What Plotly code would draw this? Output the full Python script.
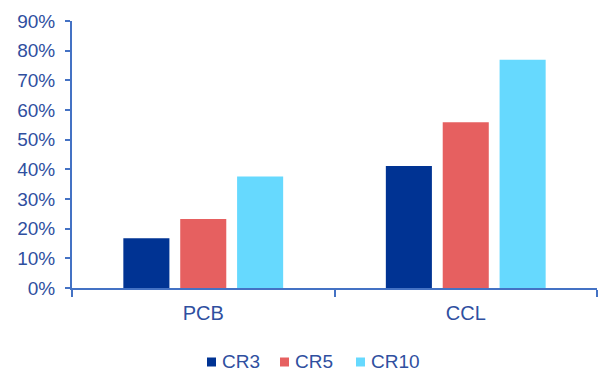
import plotly.graph_objects as go

# Concentration ratios by industry
categories = ["PCB", "CCL"]
series_names = ["CR3", "CR5", "CR10"]
cr3 = [0.168, 0.411]
cr5 = [0.233, 0.559]
cr10 = [0.376, 0.769]
y_ticks = [0, 0.1, 0.2, 0.3, 0.4, 0.5, 0.6, 0.7, 0.8, 0.9]
y_tick_labels = ["0%", "10%", "20%", "30%", "40%", "50%", "60%", "70%", "80%", "90%"]

colors = ["#003393", "#E66060", "#66D9FE"]
text_color = "#2F4F9F"
axis_color = "#4472C4"
font_family = "Liberation Sans, Arial, sans-serif"

W, H = 601, 372
ML, MR, MT, MB = 72, 4, 21, 84
plot_w = W - ML - MR
plot_h = H - MT - MB


def px_to_paper_x(px):
    return (px - ML) / plot_w


def px_to_paper_y(py):
    return (H - MB - py) / plot_h


fig = go.Figure()
for name, vals, col in zip(series_names, [cr3, cr5, cr10], colors):
    fig.add_trace(go.Bar(
        x=categories, y=vals, name=name,
        marker=dict(color=col, line=dict(width=0)),
        showlegend=False,
    ))

# Horizontal legend drawn below the axis: small square swatch + label
legend_swatch_left = [207, 280, 356]
legend_y = 361
swatch = 9
shapes = []
annotations = []
for name, col, sx in zip(series_names, colors, legend_swatch_left):
    shapes.append(dict(
        type="rect", xref="paper", yref="paper", layer="above",
        x0=px_to_paper_x(sx), x1=px_to_paper_x(sx + swatch),
        y0=px_to_paper_y(legend_y + 1 + swatch / 2), y1=px_to_paper_y(legend_y + 1 - swatch / 2),
        fillcolor=col, line=dict(width=0),
    ))
    annotations.append(dict(
        text=name, xref="paper", yref="paper",
        x=px_to_paper_x(sx + swatch + 5), y=px_to_paper_y(legend_y),
        xanchor="left", yanchor="middle", showarrow=False, borderpad=0,
        font=dict(size=19, color=text_color, family=font_family),
    ))

fig.update_layout(
    width=W, height=H,
    margin=dict(l=ML, r=MR, t=MT, b=MB),
    paper_bgcolor="white", plot_bgcolor="white",
    font=dict(family=font_family, size=19, color=text_color),
    barmode="group", bargap=0.35, bargroupgap=0.19,
    showlegend=False,
    shapes=shapes, annotations=annotations,
)
fig.update_xaxes(
    showline=True, linecolor=axis_color, linewidth=2,
    ticks="outside", tickson="boundaries", ticklen=7, tickcolor=axis_color, tickwidth=2,
    showgrid=False, ticklabelstandoff=6, tickfont=dict(size=20),
)
fig.update_yaxes(
    range=[0, 0.9], tickvals=y_ticks, ticktext=y_tick_labels,
    showline=True, linecolor=axis_color, linewidth=2,
    ticks="outside", ticklen=5, tickcolor=axis_color, tickwidth=2,
    showgrid=False, zeroline=False, ticklabelstandoff=6,
)

fig.write_html("out.html")
